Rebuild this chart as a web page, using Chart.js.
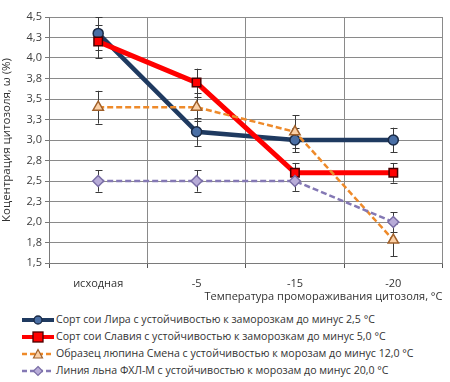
<!DOCTYPE html>
<html>
<head>
<meta charset="utf-8">
<script src="https://cdn.jsdelivr.net/npm/chart.js@4.4.1/dist/chart.umd.min.js"></script>
<style>
    body { margin: 0; background: #fff; }
    #wrap { position: relative; width: 450px; height: 382px; overflow: hidden; }
    #chart { position: absolute; left: 0; top: 0; }
    #legend { position: absolute; left: 22px; top: 311px; font-family: "Open Sans", sans-serif; font-size: 10.6px; color: #333; }
    .row { height: 17px; line-height: 17px; white-space: nowrap; display: flex; align-items: center; }
    .row svg { margin-right: 2px; }
</style>
</head>
<body>
<div id="wrap">
    <canvas id="chart" width="450" height="305"></canvas>
    <div id="legend"></div>
</div>
<script>
const categories = ["исходная", "-5", "-15", "-20"];

const liraValues   = [4.30, 3.10, 3.00, 3.00];
const liraErrors   = [0.20, 0.17, 0.15, 0.15];
const slaviaValues = [4.20, 3.70, 2.60, 2.60];
const slaviaErrors = [0.20, 0.17, 0.12, 0.12];
const smenaValues  = [3.40, 3.40, 3.10, 1.78];
const smenaErrors  = [0.20, 0.17, 0.20, 0.20];
const flaxValues   = [2.50, 2.50, 2.50, 2.00];
const flaxErrors   = [0.13, 0.13, 0.12, 0.12];

const seriesNames = [
    "Сорт сои  Лира с устойчивостью к заморозкам до минус 2,5 °С",
    "Сорт сои  Славия с устойчивостью к заморозкам до минус 5,0 °С",
    "Образец люпина Смена с устойчивостью к морозам до минус 12,0 °С",
    "Линия льна ФХЛ-М с устойчивостью к морозам до минус 20,0 °С"
];

const yMin = 1.5, yMax = 4.5, yStep = 0.25;

Chart.defaults.font.family = '"Open Sans", sans-serif';
Chart.defaults.font.size = 11;
Chart.defaults.color = '#404040';

// draws the vertical error bars with caps, under the lines
const errorBars = {
    id: 'errorBars',
    beforeDatasetsDraw(chart) {
        const ctx = chart.ctx;
        const ys = chart.scales.y;
        ctx.save();
        ctx.strokeStyle = '#3a3a3a';
        ctx.lineWidth = 1;
        chart.data.datasets.forEach((ds, i) => {
            const meta = chart.getDatasetMeta(i);
            meta.data.forEach((pt, j) => {
                const v = ds.data[j], e = ds.errors[j];
                const top = ys.getPixelForValue(v + e);
                const bot = ys.getPixelForValue(v - e);
                const x = Math.round(pt.x) + 0.5;
                ctx.beginPath();
                ctx.moveTo(x, top); ctx.lineTo(x, bot);
                ctx.moveTo(x - 3, Math.round(top) + 0.5); ctx.lineTo(x + 4, Math.round(top) + 0.5);
                ctx.moveTo(x - 3, Math.round(bot) + 0.5); ctx.lineTo(x + 4, Math.round(bot) + 0.5);
                ctx.stroke();
            });
        });
        ctx.restore();
    }
};

const styles = [
    { color: '#1f3a60', width: 4.5, dash: [], point: 'circle', radius: 5, fill: '#4a6fa5', border: '#1a2a45' },
    { color: '#ff0000', width: 5, dash: [], point: 'rect', radius: 6, fill: '#ff0000', border: '#4a0000' },
    { color: '#ee8a2a', width: 2.5, dash: [6, 3], point: 'triangle', radius: 6, fill: '#fbd0a6', border: '#a0602a' },
    { color: '#8478b4', width: 2.5, dash: [6, 3], point: 'rectRot', radius: 5.5, fill: '#b8acd8', border: '#7a6ea6' }
];

const allValues = [liraValues, slaviaValues, smenaValues, flaxValues];
const allErrors = [liraErrors, slaviaErrors, smenaErrors, flaxErrors];

const datasets = allValues.map((vals, i) => ({
    label: seriesNames[i],
    data: vals,
    errors: allErrors[i],
    borderColor: styles[i].color,
    borderWidth: styles[i].width,
    borderDash: styles[i].dash,
    pointStyle: styles[i].point,
    pointRadius: styles[i].radius,
    pointBackgroundColor: styles[i].fill,
    pointBorderColor: styles[i].border,
    pointBorderWidth: 1.5,
    tension: 0,
    order: 4 - i
}));

new Chart(document.getElementById('chart'), {
    type: 'line',
    data: { labels: categories, datasets: datasets },
    options: {
        responsive: false,
        animation: false,
        layout: { padding: { top: 17, right: 1, left: 0, bottom: 0 } },
        plugins: { legend: { display: false }, tooltip: { enabled: false } },
        scales: {
            x: {
                offset: true,
                grid: {
                    offset: true,
                    color: '#8a8a8a',
                    borderDash: [1, 2],
                    tickLength: 5,
                    tickColor: '#555',
                    tickBorderDash: []
                },
                border: { color: '#7a7a7a', width: 1 },
                ticks: { padding: 9, color: '#333', font: { size: 11 } },
                title: {
                    display: true,
                    text: 'Температура промораживания цитозоля, °С',
                    align: 'end',
                    color: '#333',
                    font: { size: 11 },
                    padding: { top: 0, bottom: 2 }
                },
                afterFit: s => { s.height = 42; }
            },
            y: {
                min: yMin,
                max: yMax,
                grid: {
                    color: '#8a8a8a',
                    borderDash: [1, 2],
                    tickLength: 4,
                    tickColor: '#777',
                    tickBorderDash: []
                },
                border: { color: '#7a7a7a', width: 1 },
                ticks: {
                    stepSize: yStep,
                    padding: 3,
                    color: '#404040',
                    callback: v => v.toFixed(1).replace('.', ',')
                },
                title: {
                    display: true,
                    text: 'Коцентрация цитозоля, ω (%)',
                    color: '#333',
                    font: { size: 11.5 },
                    padding: { top: 0, bottom: 2 }
                },
                afterFit: s => { s.width = 49; }
            }
        }
    },
    plugins: [errorBars]
});

// legend with line + marker icons
const legend = document.getElementById('legend');
const markerSvg = {
    circle: (f, b) => `<circle cx="16" cy="6" r="4" fill="${f}" stroke="${b}" stroke-width="1.3"/>`,
    rect: (f, b) => `<rect x="11" y="1" width="10" height="10" fill="${f}" stroke="${b}" stroke-width="1.3"/>`,
    triangle: (f, b) => `<polygon points="16,1.5 20.5,10 11.5,10" fill="${f}" stroke="${b}" stroke-width="1.2"/>`,
    rectRot: (f, b) => `<polygon points="16,1.5 20.5,6 16,10.5 11.5,6" fill="${f}" stroke="${b}" stroke-width="1.2"/>`
};
seriesNames.forEach((name, i) => {
    const st = styles[i];
    const dash = st.dash.length ? `stroke-dasharray="5,3"` : '';
    const row = document.createElement('div');
    row.className = 'row';
    row.innerHTML = `<svg width="32" height="12"><line x1="0" y1="6" x2="32" y2="6" stroke="${st.color}" stroke-width="${Math.min(st.width, 4)}" ${dash}/>${markerSvg[st.point](st.fill, st.border)}</svg><span>${name}</span>`;
    legend.appendChild(row);
});
</script>
</body>
</html>
